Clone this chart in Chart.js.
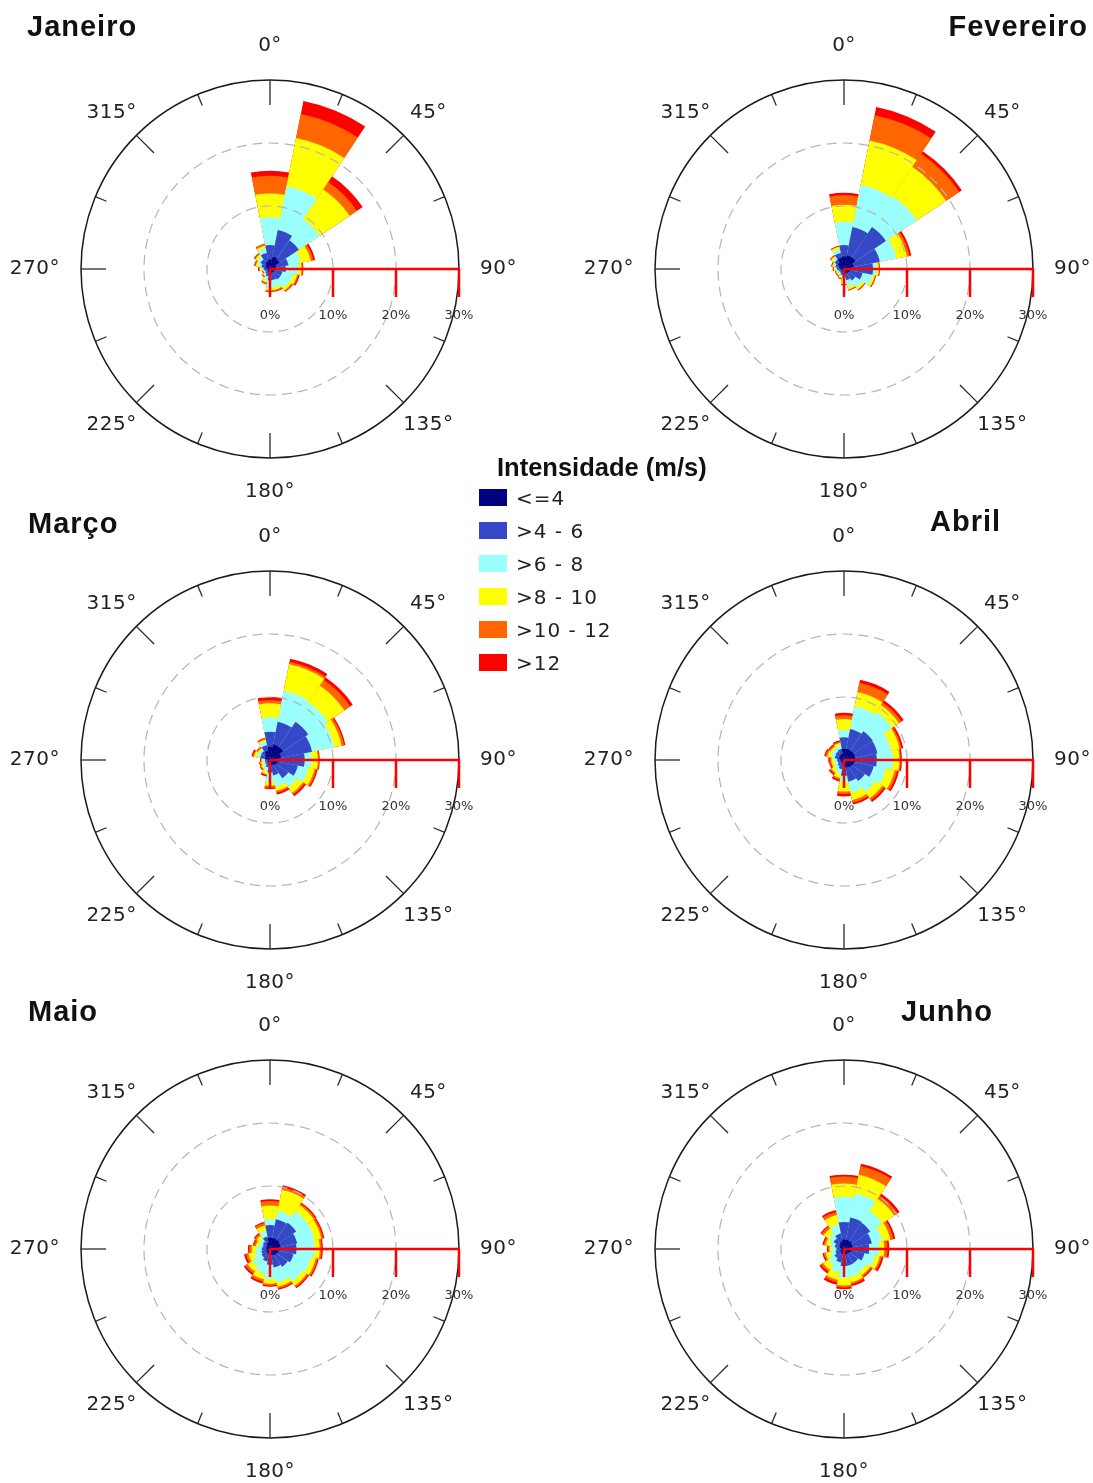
<!DOCTYPE html>
<html><head><meta charset="utf-8">
<script src="https://cdn.jsdelivr.net/npm/chart.js@4/dist/chart.umd.min.js"></script>
<style>
html,body{margin:0;padding:0;background:#fff;}
body{width:1093px;height:1483px;position:relative;overflow:hidden;font-family:"DejaVu Sans",Verdana,sans-serif;}
canvas.rose{position:absolute;}
.title{position:absolute;font:bold 29px "Liberation Sans",Arial,sans-serif;letter-spacing:1px;color:#111;white-space:nowrap;line-height:29px;}
.legtitle{position:absolute;left:497px;top:454px;font:bold 25.5px "Liberation Sans",Arial,sans-serif;line-height:26px;color:#111;white-space:nowrap;}
.legitem{position:absolute;left:479px;height:17px;display:flex;align-items:center;}
.legitem .sw{width:28px;height:17px;margin-right:9px;}
.legitem .tx{font:20px "DejaVu Sans",sans-serif;letter-spacing:1px;color:#222;white-space:nowrap;}
</style>
</head><body>
<script>
// ---------- data ----------
const directions = ['N','NNE','NE','ENE','E','ESE','SE','SSE','S','SSW','SW','WSW','W','WNW','NW','NNW'];
const speedClasses = ['<=4', '>4 - 6', '>6 - 8', '>8 - 10', '>10 - 12', '>12'];
const classColors = ['#000080', '#3548c8', '#99ffff', '#ffff00', '#ff6600', '#ff0000'];
const angleTickLabels = ['0°','45°','90°','135°','180°','225°','270°','315°'];
const percentTicks = [0, 10, 20, 30];

// frequency (%) per direction, one array per speed class
const janeiro = [
  [1.5,2.0,1.8,1.0,0.8,0.7,0.7,0.6,0.6,0.5,0.4,0.4,0.5,0.7,0.9,1.2],
  [2.3,4.3,3.7,2.0,1.7,1.3,1.3,1.2,1.2,0.7,0.5,0.4,0.5,0.7,0.9,1.4],
  [4.4,7.1,4.0,2.0,2.0,1.8,1.6,1.2,1.2,0.7,0.3,0.2,0.4,0.6,0.6,0.8],
  [3.8,7.8,5.7,1.6,0.5,0.6,0.5,0.4,0.4,0.3,0.2,0.1,0.2,0.3,0.4,0.4],
  [2.8,3.9,1.4,0.4,0.2,0.2,0.2,0.2,0.2,0.2,0.1,0.1,0.2,0.2,0.2,0.2],
  [0.8,2.1,1.1,0.3,0.1,0.2,0.1,0.1,0.1,0.1,0.1,0.1,0.1,0.1,0.1,0.1]
];
const fevereiro = [
  [2.0,2.2,2.2,1.6,1.2,0.9,0.8,0.7,0.6,0.5,0.4,0.4,0.6,0.8,1.2,1.8],
  [1.8,4.6,5.8,4.2,3.4,2.1,1.4,1.1,0.8,0.5,0.4,0.4,0.5,0.6,0.6,0.8],
  [3.7,6.8,5.9,2.7,0.6,1.6,1.3,1.1,0.6,0.3,0.3,0.3,0.3,0.3,0.4,0.6],
  [2.7,7.2,5.6,1.7,0.3,0.4,0.4,0.4,0.4,0.2,0.2,0.2,0.2,0.2,0.3,0.4],
  [1.5,4.1,2.5,0.4,0.1,0.1,0.1,0.1,0.1,0.1,0.1,0.1,0.1,0.1,0.1,0.1],
  [0.4,1.3,0.5,0.3,0.1,0.1,0.1,0.1,0.1,0.1,0.1,0.1,0.1,0.1,0.1,0.1]
];
const marco = [
  [2.1,2.5,2.5,1.8,1.5,1.2,1.0,0.8,0.7,0.5,0.4,0.4,0.4,0.8,1.0,1.5],
  [2.4,3.7,4.8,5.0,4.0,3.3,2.5,1.7,1.3,0.7,0.5,0.4,0.4,0.8,0.7,0.9],
  [2.3,5.0,3.7,3.6,1.1,1.7,1.7,1.8,1.5,0.7,0.5,0.4,0.3,0.6,0.4,0.6],
  [2.2,4.3,3.2,1.2,1.0,1.0,1.1,0.7,0.6,0.4,0.3,0.3,0.2,0.4,0.2,0.3],
  [0.5,0.4,1.1,0.4,0.2,0.3,0.3,0.3,0.3,0.2,0.2,0.2,0.2,0.2,0.2,0.2],
  [0.5,0.5,0.5,0.2,0.1,0.2,0.3,0.3,0.2,0.2,0.1,0.1,0.1,0.2,0.1,0.1]
];
const abril = [
  [1.8,1.8,1.8,1.8,1.8,1.6,1.4,1.2,1.0,0.6,0.5,0.5,0.6,0.8,0.9,1.0],
  [1.8,3.2,3.7,3.6,3.4,3.2,2.6,2.3,1.5,0.9,0.7,0.5,0.5,0.7,0.7,0.8],
  [1.2,3.7,3.7,2.2,2.6,2.0,2.0,1.8,1.0,0.8,0.7,0.5,0.5,0.7,0.6,0.6],
  [1.7,2.3,1.3,1.4,1.0,1.4,1.3,1.2,1.5,0.6,0.5,0.5,0.4,0.5,0.4,0.4],
  [0.6,1.5,0.5,0.3,0.2,0.4,0.4,0.4,0.4,0.3,0.3,0.2,0.3,0.3,0.2,0.2],
  [0.4,0.5,0.4,0.3,0.2,0.3,0.3,0.3,0.4,0.3,0.2,0.2,0.2,0.2,0.2,0.2]
];
const maio = [
  [1.8,1.8,1.8,1.7,1.5,1.3,1.2,1.0,0.9,0.8,0.7,0.6,0.6,0.6,0.7,1.0],
  [2.0,3.0,3.2,2.7,2.7,2.5,2.2,2.0,1.6,1.2,0.9,0.8,0.7,0.6,0.7,1.0],
  [1.0,1.4,2.2,2.8,2.9,2.8,2.8,2.4,2.3,2.0,1.8,1.2,0.9,0.6,0.6,1.0],
  [2.1,3.4,1.2,1.1,0.8,0.8,0.8,0.7,0.7,0.9,0.9,0.9,0.7,0.5,0.6,0.8],
  [0.7,0.4,0.3,0.3,0.3,0.3,0.3,0.3,0.3,0.4,0.4,0.4,0.4,0.3,0.3,0.4],
  [0.3,0.3,0.2,0.2,0.2,0.2,0.2,0.2,0.2,0.3,0.3,0.3,0.2,0.2,0.2,0.2]
];
const junho = [
  [1.5,1.5,1.5,1.4,1.3,1.1,0.9,0.9,0.9,0.8,0.7,0.6,0.5,0.7,0.9,1.2],
  [2.8,3.6,3.5,3.1,2.7,2.2,1.8,1.8,1.8,1.4,1.1,0.8,0.7,0.8,1.1,1.3],
  [4.0,3.9,2.3,1.7,1.6,1.7,1.6,1.8,1.9,1.6,1.2,0.9,0.6,0.8,1.0,1.5],
  [2.1,3.0,2.3,1.3,0.8,0.8,0.7,0.9,1.2,1.2,1.0,0.7,0.5,0.7,0.9,1.5],
  [1.1,1.4,0.6,0.5,0.5,0.3,0.3,0.3,0.3,0.4,0.4,0.3,0.2,0.3,0.4,0.5],
  [0.3,0.4,0.4,0.3,0.3,0.3,0.2,0.3,0.3,0.4,0.3,0.2,0.2,0.2,0.2,0.3]
];

// ---------- layout ----------
const panels = [
  {title:'Janeiro',   data:janeiro,   cx:270, cy:269, tl:{left:'27px', top:'12px'}},
  {title:'Fevereiro', data:fevereiro, cx:844, cy:269, tl:{right:'5px', top:'12px'}},
  {title:'Março',     data:marco,     cx:270, cy:760, tl:{left:'28px', top:'509px'}},
  {title:'Abril',     data:abril,     cx:844, cy:760, tl:{left:'930px', top:'507px'}},
  {title:'Maio',      data:maio,      cx:270, cy:1249, tl:{left:'28px', top:'997px'}},
  {title:'Junho',     data:junho,     cx:844, cy:1249, tl:{left:'901px', top:'997px'}}
];
const CW = 540, CH = 480, R = 189;

function stacked(rows){
  const out = []; let acc = rows[0].map(() => 0);
  rows.forEach(r => { acc = acc.map((v,i) => Math.round((v + r[i]) * 100) / 100); out.push(acc.slice()); });
  return out;
}

const roseDecor = {
  id: 'roseDecor',
  afterDraw(chart){
    const s = chart.scales.r, ctx = chart.ctx;
    const cx = s.xCenter, cy = s.yCenter, rOut = s.getDistanceFromCenterForValue(30);
    ctx.save();
    // outer ticks
    ctx.strokeStyle = '#2a2a2a'; ctx.lineWidth = 1.3;
    for (let k = 0; k < 16; k++){
      const a = k * 22.5 * Math.PI / 180, len = (k % 2 === 0) ? 25 : 12;
      ctx.beginPath();
      ctx.moveTo(cx + Math.sin(a) * rOut, cy - Math.cos(a) * rOut);
      ctx.lineTo(cx + Math.sin(a) * (rOut - len), cy - Math.cos(a) * (rOut - len));
      ctx.stroke();
    }
    // angle labels
    ctx.font = '20px "DejaVu Sans", sans-serif';
    try { ctx.letterSpacing = '0.5px'; } catch(e) {}
    ctx.fillStyle = '#222'; ctx.textAlign = 'center'; ctx.textBaseline = 'middle';
    angleTickLabels.forEach((t, j) => {
      const a = j * 45 * Math.PI / 180;
      const w = ctx.measureText(t).width;
      const diag = (j % 2 === 1);
      const x = cx + Math.sin(a) * (diag ? rOut + 35 : rOut + 21 + w / 2);
      const y = cy - Math.cos(a) * (diag ? rOut + 32 : rOut + 34);
      ctx.fillText(t, x, y);
    });
    // radial axis (red)
    ctx.strokeStyle = '#ff0000'; ctx.lineWidth = 2.5;
    ctx.beginPath(); ctx.moveTo(cx, cy); ctx.lineTo(cx + rOut + 1, cy); ctx.stroke();
    ctx.font = '13px "DejaVu Sans", sans-serif';
    try { ctx.letterSpacing = '0px'; } catch(e) {}
    ctx.fillStyle = '#333';
    percentTicks.forEach(v => {
      const x = cx + s.getDistanceFromCenterForValue(v);
      ctx.beginPath(); ctx.moveTo(x, cy); ctx.lineTo(x, cy + 28); ctx.stroke();
      ctx.fillText(v + '%', x, cy + 47);
    });
    ctx.restore();
  }
};

panels.forEach(p => {
  const c = document.createElement('canvas');
  c.className = 'rose'; c.width = CW; c.height = CH;
  c.style.left = (p.cx - CW / 2) + 'px'; c.style.top = (p.cy - CH / 2) + 'px';
  document.body.appendChild(c);
  const cum = stacked(p.data);
  new Chart(c, {
    type: 'polarArea',
    data: {
      labels: directions,
      datasets: cum.map((d, i) => ({label: speedClasses[i], data: d, backgroundColor: classColors[i], borderWidth: 0}))
    },
    options: {
      responsive: false, animation: false, devicePixelRatio: 1,
      layout: {padding: {left: (CW - 2 * R) / 2, right: (CW - 2 * R) / 2, top: (CH - 2 * R) / 2, bottom: (CH - 2 * R) / 2}},
      plugins: {legend: {display: false}, tooltip: {enabled: false}},
      scales: {
        r: {
          min: 0, max: 30, startAngle: -11.25,
          ticks: {display: false, stepSize: 10},
          pointLabels: {display: false},
          angleLines: {display: false},
          grid: {
            z: 1, circular: true,
            color: ctx => ctx.tick && ctx.tick.value === 30 ? '#1a1a1a' : '#b5b5b5',
            lineWidth: ctx => ctx.tick && ctx.tick.value === 30 ? 1.5 : 1.2
          },
          border: {dash: ctx => ctx.tick && ctx.tick.value === 30 ? [] : [10, 6]}
        }
      }
    },
    plugins: [roseDecor]
  });
  const t = document.createElement('div');
  t.className = 'title'; t.textContent = p.title;
  Object.assign(t.style, p.tl);
  document.body.appendChild(t);
});

// legend
const lt = document.createElement('div');
lt.className = 'legtitle'; lt.textContent = 'Intensidade (m/s)';
document.body.appendChild(lt);
speedClasses.forEach((name, i) => {
  const it = document.createElement('div');
  it.className = 'legitem'; it.style.top = (489 + i * 33) + 'px';
  const sw = document.createElement('div'); sw.className = 'sw'; sw.style.background = classColors[i];
  const tx = document.createElement('div'); tx.className = 'tx'; tx.textContent = name;
  it.appendChild(sw); it.appendChild(tx);
  document.body.appendChild(it);
});
</script>
</body></html>
